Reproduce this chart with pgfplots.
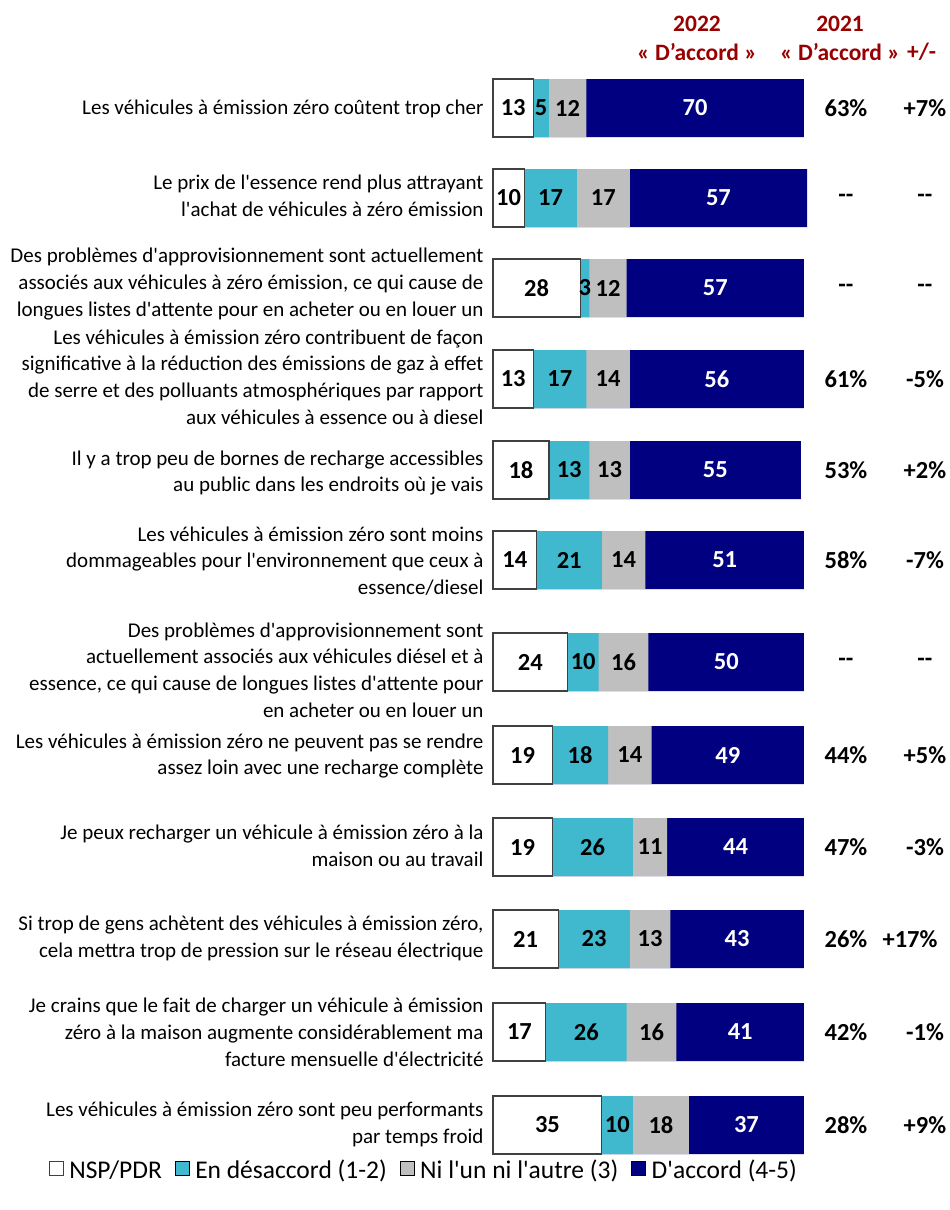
\documentclass[border=0pt]{standalone}
\usepackage{pgfplots}
\usepackage{pgfplotstable}
\pgfplotsset{compat=1.18}
\usepackage{fontspec}
\setmainfont{Carlito}
\definecolor{navyc}{HTML}{000080}
\definecolor{cyanc}{HTML}{40B8CE}
\definecolor{grayc}{HTML}{BFBFBF}
\definecolor{redc}{HTML}{990000}
\definecolor{edgec}{HTML}{404040}
\newcommand{\dd}{\mbox{-}\mbox{-}}
\newcommand{\q}{\textquotesingle}
\newcommand{\labfont}{\fontsize{21}{26.8}\selectfont}
\newcommand{\numfont}{\bfseries\fontsize{24.5}{25}\selectfont}
\newcommand{\hdrfont}{\bfseries\fontsize{23.5}{24}\selectfont}
\newcommand{\legfont}{\fontsize{25.5}{26}\selectfont}

\pgfplotstableread{
pos nsp des ni acc
108 13 5 12 70
198 10 17 17 57
288 28 3 12 57
379 13 17 14 56
470 18 13 13 55
560 14 21 14 51
662 24 10 16 50
755 19 18 14 49
847 19 26 11 44
939 21 23 13 43
1032 17 26 16 41
1125 35 10 18 37
}\data
\pgfplotstablecreatecol[expr={\thisrow{nsp}+\thisrow{des}}]{ctwo}{\data}
\pgfplotstablecreatecol[expr={\thisrow{nsp}+\thisrow{des}+\thisrow{ni}}]{cthree}{\data}
\pgfplotstablecreatecol[expr={\thisrow{nsp}+\thisrow{des}+\thisrow{ni}+\thisrow{acc}}]{cfour}{\data}
\pgfplotstablecreatecol[expr={\thisrow{nsp}/2}]{mone}{\data}
\pgfplotstablecreatecol[expr={\thisrow{nsp}+\thisrow{des}/2}]{mtwo}{\data}
\pgfplotstablecreatecol[expr={\thisrow{nsp}+\thisrow{des}+\thisrow{ni}/2}]{mthree}{\data}
\pgfplotstablecreatecol[expr={\thisrow{nsp}+\thisrow{des}+\thisrow{ni}+\thisrow{acc}/2}]{mfour}{\data}

\pgfplotstableread{
pos y21 diff dx
108 63\% +7\% 138.9
198 \dd{} \dd{} 138.9
288 \dd{} \dd{} 138.9
379 61\% -5\% 138.9
470 53\% +2\% 138.9
560 58\% -7\% 138.9
662 \dd{} \dd{} 138.9
755 44\% +5\% 138.9
847 47\% -3\% 138.9
939 26\% +17\% 134.1
1032 42\% -1\% 138.9
1125 28\% +9\% 138.9
}\rightdata

\pgfplotsset{
  lbl/.style={only marks, mark=*, mark size=0pt,
    mark options={draw=none, fill=none},
    scatter/use mapped color={draw=none, fill=none},
    forget plot, nodes near coords, point meta=explicit symbolic,
    every node near coord/.append style={anchor=center, font=\numfont, text=#1}},
}

\begin{document}
\begin{tikzpicture}
\begin{axis}[
  scale only axis, width=950pt, height=1210pt,
  xmin=-158.52, xmax=146.95, ymin=0, ymax=1210, y dir=reverse,
  hide axis, clip=false,
  legend style={at={(0.446,0.033)}, anchor=center, draw=none, fill=none,
    legend columns=4, font=\legfont,
    /tikz/every even column/.append style={column sep=11pt}},
  legend image code/.code={\draw[#1] (0pt,-5pt) rectangle (14pt,9pt);},
]
% bars drawn overlapping from 0, longest first
\addplot[xbar, bar width=58pt, fill=navyc, draw=none, forget plot] table[x=cfour, y=pos] {\data};
\addplot[xbar, bar width=58pt, fill=grayc, draw=none, forget plot] table[x=cthree, y=pos] {\data};
\addplot[xbar, bar width=58pt, fill=cyanc, draw=none, forget plot] table[x=ctwo, y=pos] {\data};
\addplot[xbar, bar width=58pt, fill=white, draw=edgec, line width=1.1pt, forget plot] table[x=nsp, y=pos] {\data};
% segment labels
\addplot[lbl=black] table[x=mone, y=pos, meta=nsp] {\data};
\addplot[lbl=black] table[x=mtwo, y=pos, meta=des] {\data};
\addplot[lbl=black] table[x=mthree, y=pos, meta=ni] {\data};
\addplot[lbl=white] table[x=mfour, y=pos, meta=acc] {\data};
% right columns
\addplot[lbl=black] table[x expr=113.5, y=pos, meta=y21] {\rightdata};
\addplot[lbl=black] table[x=dx, y=pos, meta=diff] {\rightdata};

% headers
\node[font=\hdrfont, text=redc] at (axis cs:65.6,24) {2022};
\node[font=\hdrfont, text=redc] at (axis cs:65.6,52) {«~D’accord~»};
\node[font=\hdrfont, text=redc] at (axis cs:111.6,24) {2021};
\node[font=\hdrfont, text=redc] at (axis cs:111.6,52) {«~D’accord~»};
\node[font=\hdrfont, text=redc] at (axis cs:137.8,52) {+/-};

% category labels
\tikzset{lab/.style={anchor=east, align=right, font=\labfont, inner sep=0pt}}
\node[lab] at (axis cs:-3,109) {Les véhicules à émission zéro coûtent trop cher};
\node[lab] at (axis cs:-3,196) {Le prix de l\q{}essence rend plus attrayant\\l\q{}achat de véhicules à zéro émission};
\node[lab] at (axis cs:-3,284) {Des problèmes d\q{}approvisionnement sont actuellement\\associés aux véhicules à zéro émission, ce qui cause de\\longues listes d\q{}attente pour en acheter ou en louer un};
\node[lab] at (axis cs:-3,377) {Les véhicules à émission zéro contribuent de façon\\significative à la réduction des émissions de gaz à effet\\de serre et des polluants atmosphériques par rapport\\aux véhicules à essence ou à diesel};
\node[lab] at (axis cs:-3,473) {Il y a trop peu de bornes de recharge accessibles\\au public dans les endroits où je vais};
\node[lab] at (axis cs:-3,561) {Les véhicules à émission zéro sont moins\\dommageables pour l\q{}environnement que ceux à\\essence/diesel};
\node[lab] at (axis cs:-3,670) {Des problèmes d\q{}approvisionnement sont\\actuellement associés aux véhicules diésel et à\\essence, ce qui cause de longues listes d\q{}attente pour\\en acheter ou en louer un};
\node[lab] at (axis cs:-3,756) {Les véhicules à émission zéro ne peuvent pas se rendre\\assez loin avec une recharge complète};
\node[lab] at (axis cs:-3,845.5) {Je peux recharger un véhicule à émission zéro à la\\maison ou au travail};
\node[lab] at (axis cs:-3,938.5) {Si trop de gens achètent des véhicules à émission zéro,\\cela mettra trop de pression sur le réseau électrique};
\node[lab] at (axis cs:-3,1032) {Je crains que le fait de charger un véhicule à émission\\zéro à la maison augmente considérablement ma\\facture mensuelle d\q{}électricité};
\node[lab] at (axis cs:-3,1124.5) {Les véhicules à émission zéro sont peu performants\\par temps froid};

% legend
\addlegendimage{draw=black!75, fill=white, line width=0.8pt}
\addlegendentry{\hspace{4pt}NSP/PDR}
\addlegendimage{draw=none, fill=cyanc}
\addlegendentry{\hspace{4pt}En désaccord (1-2)}
\addlegendimage{draw=none, fill=grayc}
\addlegendentry{\hspace{4pt}Ni l\q{}un ni l\q{}autre (3)}
\addlegendimage{draw=none, fill=navyc}
\addlegendentry{\hspace{4pt}D\q{}accord (4-5)}
\end{axis}
\pgfresetboundingbox
\path (current axis.south west) rectangle (current axis.north east);
\end{tikzpicture}
\end{document}
